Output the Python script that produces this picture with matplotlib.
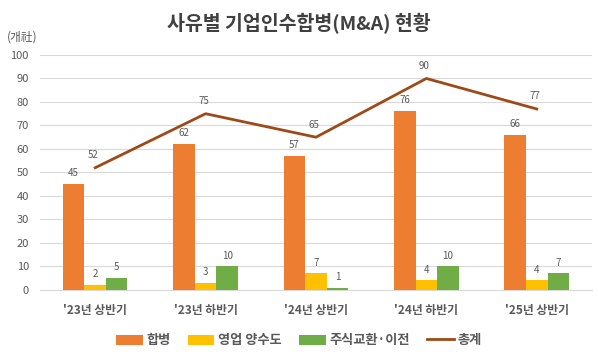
import matplotlib
matplotlib.use("Agg")
import matplotlib.pyplot as plt
import numpy as np

plt.rcParams['font.family'] = ['Noto Sans CJK KR', 'DejaVu Sans']

categories = ["'23년 상반기", "'23년 하반기", "'24년 상반기", "'24년 하반기", "'25년 상반기"]
merger = [45, 62, 57, 76, 66]
business_transfer = [2, 3, 7, 4, 4]
stock_exchange = [5, 10, 1, 10, 7]
total = [52, 75, 65, 90, 77]

series_names = ["합병", "영업 양수도", "주식교환·이전"]
line_name = "총계"
colors = ["#ED7D31", "#FFC000", "#70AD47"]
line_color = "#9E4A18"

fig = plt.figure(figsize=(5.98, 3.57), dpi=100)
ax = fig.add_axes([0.0669, 0.188, 0.923, 0.658])

x = np.arange(len(categories))
w = 0.195
label_color = "#595959"
handles = []
for i, (vals, c, n) in enumerate(zip([merger, business_transfer, stock_exchange], colors, series_names)):
    bars = ax.bar(x + (i - 1) * w, vals, width=w, color=c, label=n, zorder=3)
    handles.append(bars)
    for b, v in zip(bars, vals):
        ax.text(b.get_x() + b.get_width() / 2, v + 2.5, str(v), ha='center', va='bottom',
                fontsize=7, color=label_color)

ln, = ax.plot(x, total, color=line_color, lw=2, label=line_name, zorder=4)
handles.append(ln)
for xi, v in zip(x, total):
    ax.text(xi - 0.02, v + 3.2, str(v), ha='center', va='bottom', fontsize=7, color=label_color)

ax.set_xlim(-0.5, len(categories) - 0.5)
ax.set_ylim(0, 100)
ax.set_yticks(range(0, 101, 10))
ax.yaxis.grid(True, color="#D9D9D9", lw=0.8, zorder=0)
ax.set_axisbelow(True)
for s in ['top', 'right', 'left']:
    ax.spines[s].set_visible(False)
ax.spines['bottom'].set_color("#D9D9D9")
ax.tick_params(axis='y', length=0, labelsize=8, colors=label_color, pad=8)
ax.tick_params(axis='x', length=0, labelsize=8.5, colors=label_color, pad=10)
ax.set_xticks(x)
ax.set_xticklabels(categories, fontweight='bold')

fig.text(0.5, 0.935, "사유별 기업인수합병(M&A) 현황", ha='center', va='center',
         fontsize=14, fontweight='bold', color="#404040")
fig.text(0.012, 0.895, "(개社)", ha='left', va='center', fontsize=8.5, color=label_color)

labels = [h.get_label() for h in handles]
leg = fig.legend(handles, labels, loc='center', bbox_to_anchor=(0.5, 0.047), ncol=4,
                 frameon=False, fontsize=9.5, handlelength=2.0, handleheight=0.8,
                 columnspacing=1.3, handletextpad=0.3)
for t in leg.get_texts():
    t.set_color(label_color)
    t.set_fontweight('bold')

fig.savefig("out.png", dpi=100)
